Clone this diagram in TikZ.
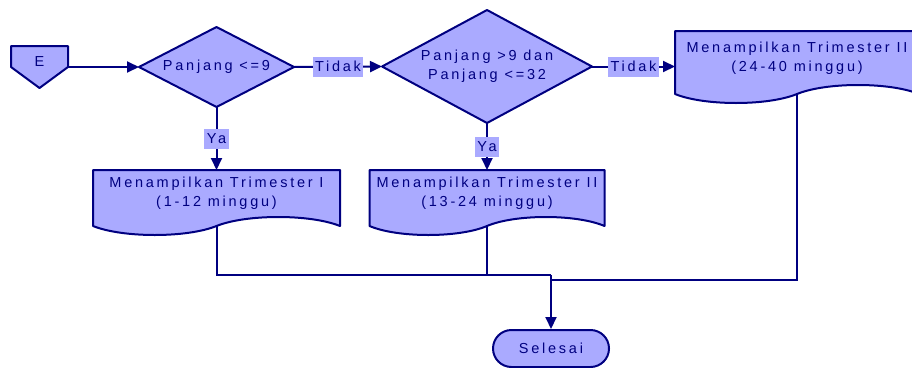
\documentclass[tikz,border=0pt]{standalone}
\usepackage{fontspec}
\setmainfont{Liberation Sans}[LetterSpace=19]
\usetikzlibrary{shapes.misc,arrows.meta,calc,backgrounds}
\definecolor{navyc}{RGB}{0,0,128}
\definecolor{fillc}{RGB}{170,170,255}
\newcommand\docshape[1]{%
  \path[shapefill] (#1.north west) -- (#1.north east) -- ($(#1.south east)+(0,9)$)
   .. controls ($(#1.south west)!0.88!(#1.south east)+(0,-3)$) and ($(#1.south west)!0.62!(#1.south east)+(0,-3)$) .. ($(#1.south)+(0,9)$)
   .. controls ($(#1.south west)!0.38!(#1.south east)+(0,21)$) and ($(#1.south west)!0.12!(#1.south east)+(0,21)$) .. ($(#1.south west)+(0,9)$) -- cycle;}
\newcommand\diashape[1]{%
  \path[shapefill] (#1.north) -- (#1.east) -- (#1.south) -- (#1.west) -- cycle;}
\begin{document}
\begin{tikzpicture}[x=1pt,y=-1pt,
  every node/.style={font=\fontsize{14.5}{19}\selectfont, text=navyc},
  shapefill/.style={fill=fillc, draw=navyc, line width=2pt, line join=round},
  boxnode/.style={rectangle, align=center, inner sep=0pt, outer sep=0pt},
  lbl/.style={fill=fillc, inner xsep=2.5pt, inner ysep=0pt, minimum height=20pt},
  conn/.style={draw=navyc, line width=2pt},
  arr/.style={conn, -{Triangle[length=12pt,width=11pt]}}]
\useasboundingbox (0,0) rectangle (912,367);
% nodes
\node[boxnode, minimum width=57pt, minimum height=32pt] (E) at (39.5,62) {E};
\node[boxnode, minimum width=155pt, minimum height=80pt] (c1) at (216.5,67) {Panjang <=9};
\node[boxnode, minimum width=210pt, minimum height=113pt] (c2) at (487,66.5) {Panjang >9 dan\\Panjang <=32};
\node[boxnode, minimum width=247pt, minimum height=47pt] (d1) at (216.5,193.5) {Menampilkan Trimester I\\(1-12 minggu)};
\node[boxnode, minimum width=235pt, minimum height=47pt] (d2) at (487,193.5) {Menampilkan Trimester II\\(13-24 minggu)};
\node[boxnode, minimum width=244pt, minimum height=54pt] (d3) at (797,58) {Menampilkan Trimester II\\(24-40 minggu)};
\node[rounded rectangle, shapefill, minimum width=116pt, minimum height=37pt, inner sep=0pt] (s) at (551,348.5) {Selesai};
% background shapes
\begin{pgfonlayer}{background}
  \fill[white] (0,0) rectangle (912,367);
  \path[shapefill] (E.north west) -- (E.north east) -- ($(E.north east)+(0,21)$) -- ($(E.north)+(0,42)$) -- ($(E.north west)+(0,21)$) -- cycle;
  \diashape{c1}
  \diashape{c2}
  \docshape{d1}
  \docshape{d2}
  \docshape{d3}
\end{pgfonlayer}
% connectors
\coordinate (Eo) at ($(E.north east)+(0,21)$);
\coordinate (b1) at ($(d1.south)+(0,9)$);
\coordinate (b2) at ($(d2.south)+(0,9)$);
\coordinate (b3) at ($(d3.south)+(0,9)$);
\coordinate (j) at (s.north |- 0,275);
\coordinate (j3) at (s.north |- 0,280);
\draw[arr] (Eo) -- (c1.west);
\draw[arr] (c1.east) -- node[lbl]{Tidak} (c2.west);
\draw[arr] (c2.east) -- node[lbl]{Tidak} (c2.east -| d3.west);
\draw[arr] (c1.south) -- node[lbl]{Ya} (d1.north);
\draw[arr] (c2.south) -- node[lbl]{Ya} (d2.north);
\draw[conn] (b1) |- (j);
\draw[conn] (b2) -- (b2 |- j);
\draw[conn] (b3) |- (j3);
\draw[arr] (j) -- (s.north);
\end{tikzpicture}
\end{document}
